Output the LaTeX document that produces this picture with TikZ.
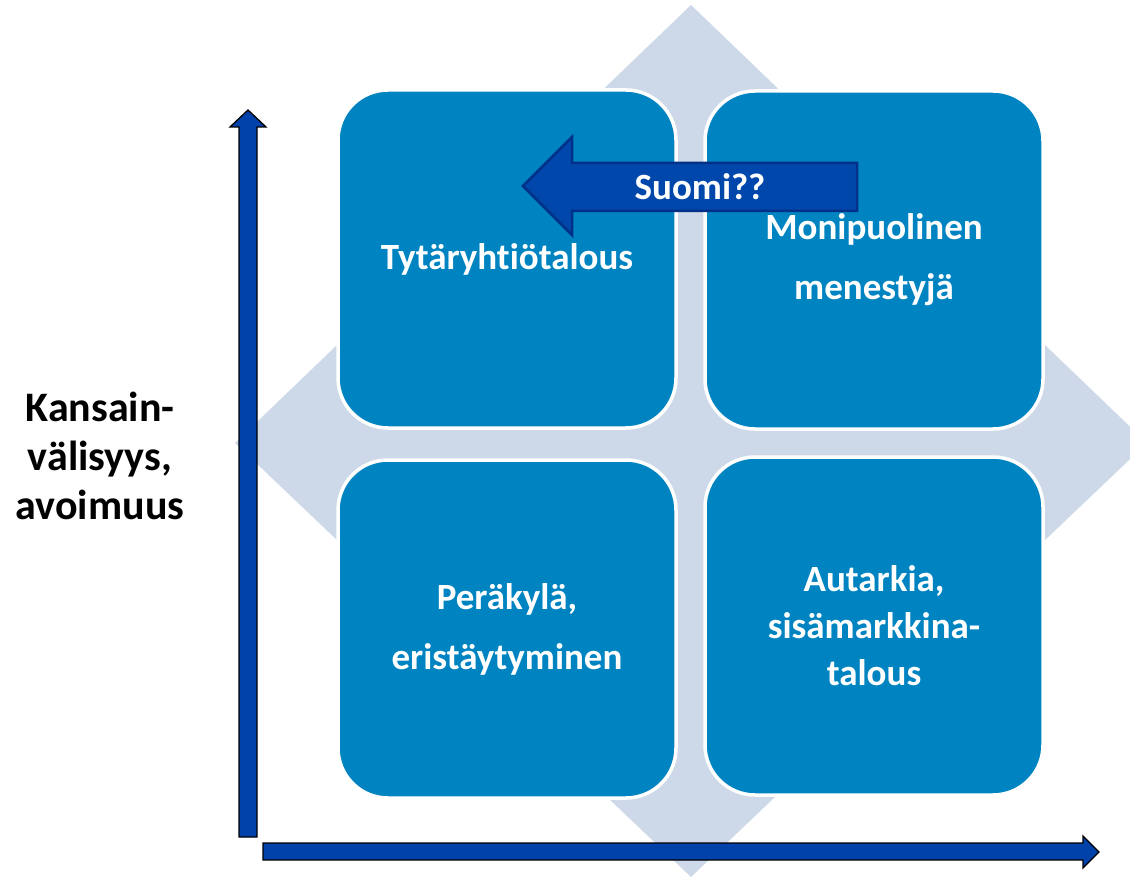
\documentclass[tikz,border=0pt]{standalone}
\usepackage{fontspec}
\setmainfont{Carlito}[Ligatures=NoCommon]
\definecolor{boxblue}{RGB}{0,132,193}
\definecolor{diam}{RGB}{205,217,232}
\definecolor{axisblue}{RGB}{0,65,170}
\definecolor{suomifill}{RGB}{0,71,171}
\definecolor{suomidraw}{RGB}{0,48,135}
\tikzset{
  quad/.style={draw=white, line width=3.5pt, fill=boxblue, rounded corners=50pt,
    minimum width=338pt, minimum height=338pt, text=white, align=center,
    font=\bfseries\fontsize{37}{60}\selectfont},
  axisarrow/.style={fill=axisblue, draw=black, line width=1.3pt, line join=miter},
}
\begin{document}
\begin{tikzpicture}[x=1pt,y=-1pt]
\useasboundingbox (0,0) rectangle (1130,877);
\begin{scope}
\clip (0,0) rectangle (1130,877);
\fill[diam] (691,5) -- (1147,443) -- (691,877) -- (235,443) -- cycle;
\end{scope}
\node[quad] (tl) at (507,259) {Tytäryhtiötalous};
\node[quad] (tr) at (874,260) {Monipuolinen\\menestyjä};
\node[quad] (bl) at (507,629) {Peräkylä,\\eristäytyminen};
\node[quad, font=\bfseries\fontsize{37}{47}\selectfont] (br) at (874,626) {Autarkia,\\sisämarkkina-\\talous};
% vertical axis
\draw[axisarrow] (239,837) -- (239,127) -- (230,127) -- (248,110) -- (266,127) -- (257,127) -- (257,837) -- cycle;
% horizontal axis
\draw[axisarrow] (263,843) -- (1083,843) -- (1083,836) -- (1099,852) -- (1083,868) -- (1083,860) -- (263,860) -- cycle;
% Suomi arrow
\draw[fill=suomifill, draw=suomidraw, line width=2.5pt, line join=miter]
  (857,163) -- (572,163) -- (572,137) -- (523,186) -- (572,235) -- (572,211) -- (857,211) -- cycle;
\node[text=white, font=\bfseries\fontsize{37}{40}\selectfont] (suomi) at (700,187) {Suomi??};
\node[align=center, font=\bfseries\fontsize{42}{49}\selectfont] (kv) at (100,456) {Kansain-\\välisyys,\\avoimuus};
\end{tikzpicture}
\end{document}
